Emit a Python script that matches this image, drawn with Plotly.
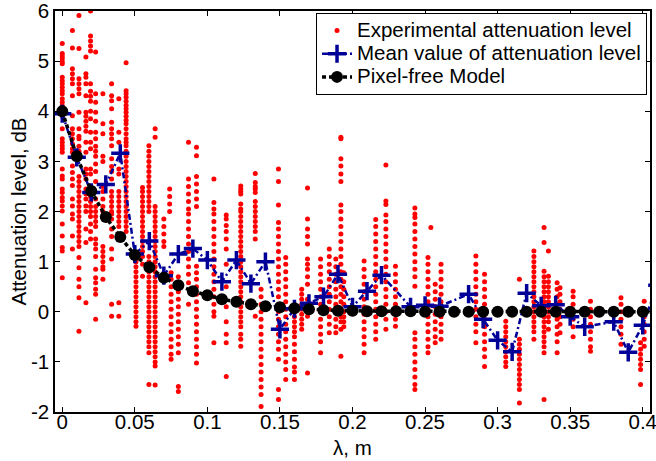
import plotly.graph_objects as go

# ---------------- data ----------------
# Experimental attenuation level: columns of red dots (x position, y values)
dot_col_x = [0.0, 0.007, 0.0115, 0.0163, 0.0195, 0.023, 0.028, 0.034, 0.039, 0.044,
             0.0508, 0.0553, 0.0597, 0.064, 0.07, 0.074, 0.075, 0.08, 0.087, 0.0925,
             0.1045, 0.113, 0.123, 0.133, 0.137, 0.149, 0.154, 0.16, 0.165, 0.169,
             0.178, 0.184, 0.1885, 0.192, 0.194, 0.208, 0.216, 0.223, 0.2296, 0.243,
             0.252, 0.254, 0.257, 0.261, 0.285, 0.291, 0.3056, 0.315, 0.325, 0.332,
             0.335, 0.341, 0.343, 0.352, 0.364, 0.385, 0.3985, 0.401]
dot_col_y = [
    [5.35, 5.15, 5.1, 5.05, 4.99, 4.95, 4.68, 4.61, 4.55, 4.48, 4.41, 4.35, 4.25, 4.18, 4.11, 3.91, 3.65, 3.45, 3.38, 3.31, 3.25, 3.18, 2.85, 2.71, 2.65, 2.45, 2.38, 2.28, 2.21, 2.11, 2.01, 1.75, 1.51, 1.28, 1.21, 0.68],
    [5.61, 5.26, 4.85, 4.75, 4.65, 4.55, 4.31, 3.91, 3.65, 3.55, 3.45, 3.35, 3.25, 3.18, 2.91, 2.78, 2.65, 2.52, 2.25, 2.11, 1.95, 1.85, 1.51, 1.25],
    [5.91, 5.25, 4.65, 4.55, 4.45, 4.35, 3.98, 3.65, 3.5, 3.45, 3.3, 3.2, 2.7, 2.6, 2.5, 2.4, 2.3, 2.2, 2.1, 2.0, 1.9, 1.8, 1.7, 1.6, 1.5, 1.4, 1.3, 1.08, 0.88, 0.65, 0.5, 0.28, -0.39],
    [5.08, 4.75, 4.68, 4.55, 4.31, 3.98, 3.9, 3.8, 3.7, 3.6, 3.38, 3.18, 2.85, 2.75, 2.65, 2.45, 2.35, 2.25, 2.11, 2.0, 1.65, 1.38, 0.18],
    [6.0, 5.5, 5.4, 5.3, 5.2, 4.55, 4.4, 4.3, 4.2, 4.0, 3.85, 3.58, 3.38, 3.25, 2.85, 2.75, 2.4, 2.3, 2.2, 2.1, 2.0, 1.9, 1.75, 1.6, 1.45],
    [5.18, 4.35, 4.18, 3.98, 3.8, 3.58, 3.45, 3.3, 3.2, 3.1, 2.95, 2.8, 2.6, 2.25, 2.1, 2.0, 1.9, 1.8, 1.7, 1.45, 1.35, 1.25, 1.1, 0.85, 0.68, 0.58, 0.45, 0.35, -0.15],
    [4.35, 3.75, 3.55, 3.1, 3.0, 2.5, 2.4, 2.25, 2.1, 2.0, 1.3, 1.2, 1.1, 1.0, 0.9, 0.85, 0.65],
    [4.55, 4.31, 4.21, 4.05, 3.78, 3.65, 3.55, 3.45, 3.31, 3.05, 2.9, 2.8, 2.65, 2.4, 2.3, 2.2, 2.1, 2.0, 1.95, 1.85, 1.65, 1.5, 1.25, 1.05, 0.15, -0.09],
    [4.25, 3.58, 3.38, 2.85, 2.75, 2.4, 2.3, 2.2, 2.1, 2.0, 1.9, 1.8, 1.7, 0.18, -0.09],
    [4.97, 4.41, 4.35, 4.28, 4.2, 4.12, 4.05, 3.98, 3.9, 3.82, 3.75, 3.65, 3.55, 3.45, 3.38, 3.31, 3.2, 3.1, 3.0, 2.9, 2.8, 2.7, 2.6, 2.5, 2.4, 2.3, 2.2, 2.1, 2.0, 1.9, 1.8, 1.7, 1.6],
    [1.11, 1.0, 0.9, 0.8, 0.7, 0.6, 0.5, 0.4, 0.3, 0.2, 0.1, 0.0, -0.1, -0.2, -0.29],
    [2.48, 2.4, 2.3, 2.2, 2.1, 2.0, 1.9, 1.8, 1.7, 1.6, 1.5, 1.4, 1.3, 1.2, 1.1, 0.95, 0.71],
    [3.31, 3.2, 3.1, 3.0, 2.9, 2.8, 2.7, 2.6, 2.5, 2.4, 2.3, 2.2, 2.1, 2.0, 1.1, 1.0, 0.9, 0.8, 0.7, 0.6, 0.5, 0.4, 0.3, 0.2, 0.1, 0.0, -0.1, -0.2, -0.3, -0.4, -0.5, -0.6, -0.7, -0.82, -1.45],
    [3.65, 3.48, 2.1, 2.0, 1.9, 1.8, 1.7, 1.6, 1.5, 1.4, 1.3, 1.2, 1.1, 1.0, 0.9, 0.8, 0.7, 0.6, 0.5, 0.4, 0.3, 0.2, 0.1, 0.0, -0.1, -0.2, -0.3, -0.4, -0.5, -0.6, -0.7, -0.8, -0.9, -1.0, -1.08, -1.46],
    [1.85, 1.7, 1.55, 1.4, 1.3],
    [2.45, 2.3, 2.15, 2.0],
    [0.78, 0.65, 0.5, 0.35, 0.2, 0.05, -0.1, -0.25, -0.4, -0.55, -0.7, -0.85, -0.95],
    [0.7, 0.55, 0.4, 0.25, 0.1, -0.05, -0.2, -0.35, -0.5, -0.65, -0.82, -1.49, -1.59],
    [3.38, 2.65, 2.5, 2.35, 2.2, 2.05, 1.95, 1.8, 1.65, 1.5, 1.35, 1.2, 1.05, 0.9, 0.75, 0.58, 0.15],
    [3.28, 3.11, 2.7, 2.55, 2.4, 2.25, 2.1, 0.91, 0.78, 0.65, 0.5, 0.35, 0.2, 0.05, -0.1, -0.25, -0.4, -0.55, -0.7, -0.85, -1.02],
    [2.65, 2.18, 2.05, 1.95, 1.8, 1.65, 1.5, 1.35, 1.2, 1.05, 0.9, 0.75, 0.6, 0.45, 0.3, 0.15, 0.0, -0.09, -0.62],
    [1.93, 1.85, 1.72, 1.6, 1.45, 1.25, 0.95, 0.5, 0.1, -0.2, -0.45, -0.62, -1.29],
    [2.51, 2.45, 2.4, 2.35, 2.15, 2.05, 2.0, 1.9, 1.8, 1.7, 1.6, 1.5, 1.4, 1.3, 1.2, 1.1, 1.0, 0.9, 0.8, 0.7, 0.6, 0.5, 0.4, 0.3, 0.2, 0.1, 0.0, -0.1, -0.2, -0.3, -0.45, -0.55, -0.69],
    [2.76, 2.58, 2.5, 2.45, 2.38, 2.2, 2.1, 2.0, 1.9, 1.8, 1.7, 1.6, 1.45, -0.09],
    [0.45, 0.3, 0.15, 0.0, -0.15, -0.3, -0.45, -0.6, -0.75, -0.9, -1.05, -1.2, -1.35, -1.5, -1.65, -1.89],
    [2.85, 2.6, 2.13, 1.78, 1.65, 1.5, 1.35, 1.2, 1.05, 0.9, 0.75, 0.6, 0.45, 0.3, 0.15, 0.0, -0.15, -0.3, -0.45, -0.6, -0.75, -0.95, -1.55, -1.75],
    [1.08, 0.95, 0.8, 0.65, 0.5, 0.35, 0.2, 0.05, -0.1, -0.25, -0.4, -0.55, -0.7, -0.85, -1.0, -1.15, -1.35],
    [0.11, 0.0, -0.1, -0.2, -0.3, -0.4, -0.5, -0.65, -0.8, -0.95, -1.1, -1.2, -1.35],
    [0.45, 0.35, 0.25, 0.15, 0.05, -0.05, -0.15, -0.25, -0.35],
    [2.47, 1.85, 1.65, 1.5, 1.35, 1.05, 0.95, 0.85, 0.7, 0.55, 0.25, 0.15, 0.0, -0.09, -1.22],
    [1.05, 0.9, 0.75, 0.6, 0.45, 0.3, 0.15, 0.0, -0.15, -0.3, -0.45, -0.6, -0.82],
    [1.25, 1.1, 0.95, 0.8, 0.65, 0.5, 0.35, 0.2, 0.05, -0.1, -0.25, -0.42],
    [1.05, 0.9, 0.75, 0.6, 0.45, 0.3, 0.15, 0.0, -0.15, -0.3, -0.42],
    [3.48, 3.45, 3.05, 2.91, 2.75, 2.6, 2.13, 2.0, 1.85, 1.7, 1.55, 1.4, 1.25, 1.1, 0.95, 0.8, 0.65, 0.5, 0.35, 0.2, 0.05, -0.1, -0.2, -0.35, -0.89],
    [0.78, 0.6, 0.45, 0.3, 0.15, 0.0, -0.1, -0.2, -0.3],
    [1.01, 0.85, 0.7, 0.55, 0.4, 0.25, 0.1, -0.05, -0.2, -0.35, -0.5, -0.65, -0.82],
    [1.84, 1.7, 1.55, 1.4, 1.25, 1.1, 0.95, 0.8, 0.65, 0.5, 0.35, 0.2, 0.05, -0.1, -0.25, -0.4, -0.55],
    [2.93, 2.21, 2.14, 1.93, 1.8, 1.65, 1.5, 1.35, 1.2, 1.05, 0.9, 0.75, 0.6, 0.45, 0.3, 0.15, 0.0, -0.15, -0.35],
    [0.91, 0.75, 0.6, 0.45, 0.3, 0.15, 0.0, -0.15, -0.29],
    [2.07, 1.95, 1.88, 1.75, 1.6, 1.45, 1.3, 1.15, 1.0, 0.85, 0.7, 0.51, -0.42, -0.55, -0.7, -0.85, -1.0, -1.15, -1.3, -1.45, -1.55],
    [1.08, 0.95, 0.8, 0.65, 0.5, 0.35, 0.2, 0.05, -0.1, -0.25, -0.4, -0.55, -0.7, -0.82],
    [1.68],
    [0.55, 0.4, 0.25, 0.1, -0.05, -0.2, -0.35, -0.5, -0.62],
    [0.95, 0.8, 0.65, 0.5, 0.35, 0.2, 0.05, -0.1, -0.25, -0.4, -0.55],
    [1.11, 0.95, 0.8, 0.65, 0.5, 0.35, 0.2, 0.05, -0.1, -0.25, -0.4, -0.62],
    [0.75, 0.6, 0.45, 0.3, 0.15, 0.0, -0.15, -0.3, -0.45, -0.6, -0.75, -0.9, -1.09],
    [-0.19, -0.3, -0.4, -0.5, -0.6, -0.7, -0.8, -0.9, -1.0, -1.09],
    [0.65, -0.55, -0.65, -0.75, -0.85, -0.95, -1.05, -1.15, -1.25, -1.35, -1.45, -1.55, -1.82],
    [1.21, 1.1, 1.0, 0.9, 0.8, 0.7, 0.6, 0.5, 0.4, 0.3, 0.2, 0.1, 0.0, -0.1, -0.2, -0.3, -0.4, -0.55],
    [1.68, 1.38, 0.81, 0.7, 0.6, 0.5, 0.4, 0.3, 0.2, 0.1, 0.0, -0.1, -0.2, -0.3, -0.4, -0.5, -0.6, -0.7, -0.82, -1.75],
    [1.21, 0.71, 0.6, 0.5, 0.4, 0.3, 0.2, 0.1, 0.0, -0.1, -0.2, -0.35],
    [0.58, 0.45, 0.3, 0.15, 0.0, -0.15, -0.3, -0.45, -0.6, -0.82],
    [0.48, 0.35, 0.2, 0.05, -0.1, -0.25, -0.42],
    [0.41, 0.3, 0.15, 0.0, -0.15, -0.3, -0.5],
    [0.21, 0.05, -0.1, -0.25, -0.4, -0.55, -0.7, -0.79],
    [0.28, 0.15, 0.0, -0.15, -0.3, -0.45, -0.65],
    [-0.62, -0.75, -0.85, -0.95, -1.05, -1.15, -1.45],
    [0.21, 0.05, -0.1, -0.25, -0.4, -0.55, -0.69],
]

# Mean value of attenuation level
mean_x = [0.0, 0.01, 0.02, 0.03, 0.04, 0.05, 0.06, 0.07, 0.08, 0.09, 0.10, 0.11, 0.12,
          0.13, 0.14, 0.15, 0.16, 0.17, 0.18, 0.19, 0.20, 0.21, 0.22, 0.24, 0.25, 0.26,
          0.28, 0.29, 0.30, 0.31, 0.32, 0.33, 0.34, 0.35, 0.36, 0.38, 0.39, 0.40, 0.41]
mean_y = [3.95, 3.08, 2.38, 2.54, 3.16, 1.15, 1.41, 0.72, 1.15, 1.26, 1.03, 0.60, 1.03,
          0.56, 1.00, -0.35, 0.06, 0.17, 0.30, 0.75, 0.10, 0.41, 0.73, 0.10, 0.13, 0.11,
          0.35, -0.15, -0.57, -0.80, 0.37, 0.12, 0.14, -0.10, -0.30, -0.20, -0.81, -0.27, 0.53]

# Pixel-free model
model_x = [0.0, 0.01, 0.02, 0.03, 0.04, 0.05, 0.06, 0.07, 0.08, 0.09, 0.10, 0.11, 0.12, 0.13,
           0.14, 0.15, 0.16, 0.17, 0.18, 0.19, 0.20, 0.21, 0.22, 0.23, 0.24, 0.25, 0.26, 0.27,
           0.28, 0.29, 0.30, 0.31, 0.32, 0.33, 0.34, 0.35, 0.36, 0.37, 0.38, 0.39, 0.40, 0.41]
model_y = [4.00, 3.10, 2.41, 1.89, 1.49, 1.13, 0.89, 0.68, 0.53, 0.41, 0.33, 0.25, 0.20, 0.15,
           0.11, 0.09, 0.07, 0.05, 0.03, 0.02, 0.02, 0.01, 0.01, 0.01, 0.01, 0.0, 0.0, 0.0,
           0.0, 0.0, 0.0, 0.0, 0.0, 0.0, 0.0, 0.0, 0.0, 0.0, 0.0, 0.0, 0.0, 0.0]

series_names = ["Experimental attenuation level", "Mean value of attenuation level", "Pixel-free Model"]

x_tick_vals = [0, 0.05, 0.1, 0.15, 0.2, 0.25, 0.3, 0.35, 0.4]
x_tick_text = ["0", "0.05", "0.1", "0.15", "0.2", "0.25", "0.3", "0.35", "0.4"]
y_tick_vals = [-2, -1, 0, 1, 2, 3, 4, 5, 6]
y_tick_text = ["-2", "-1", "0", "1", "2", "3", "4", "5", "6"]

# ---------------- figure ----------------
dots_x, dots_y = [], []
for cx, ys in zip(dot_col_x, dot_col_y):
    for v in ys:
        dots_x.append(cx)
        dots_y.append(v)

FONT = "Arial, 'Liberation Sans', Helvetica, sans-serif"
FS = 20.5


def legend_label(s):
    # legend row height follows legend font size; text itself drawn at FS
    return '<span style="font-size:%.1fpx">%s</span>' % (FS, s)


fig = go.Figure()
fig.add_trace(go.Scatter(
    x=dots_x, y=dots_y, mode="markers", name=legend_label(series_names[0]),
    marker=dict(color="#FF0000", size=5, line=dict(width=0)),
))
fig.add_trace(go.Scatter(
    x=mean_x, y=mean_y, mode="lines+markers", name=legend_label(series_names[1]),
    line=dict(color="#000099", width=2.5, dash="6px,3px,2px,3px"),
    marker=dict(symbol="cross-thin", size=13, color="#000099",
                line=dict(color="#000099", width=3.5)),
))
fig.add_trace(go.Scatter(
    x=model_x, y=model_y, mode="lines+markers", name=legend_label(series_names[2]),
    line=dict(color="#000000", width=3.5, dash="4px,3px"),
    marker=dict(symbol="circle", size=12, color="#000000"),
))

fig.update_layout(
    width=656, height=461,
    margin=dict(l=55, r=6, t=11, b=49, autoexpand=False),
    paper_bgcolor="white", plot_bgcolor="white",
    font=dict(family=FONT, size=FS, color="black"),
    showlegend=True,
    legend=dict(
        x=0.995, y=0.995, xanchor="right", yanchor="top",
        bgcolor="white", bordercolor="black", borderwidth=1,
        font=dict(family=FONT, size=15.5, color="black"),
        tracegroupgap=0, itemwidth=30,
    ),
    annotations=[
        dict(text="λ, m", xref="paper", yref="paper", x=0.5, y=0,
             xanchor="center", yanchor="top", yshift=-22, showarrow=False,
             font=dict(family=FONT, size=FS, color="black")),
        dict(text="Attenuation level, dB", xref="paper", yref="paper", x=0, y=0.5,
             xanchor="center", yanchor="middle", xshift=-37, textangle=-90,
             showarrow=False, font=dict(family=FONT, size=FS, color="black")),
    ],
)
fig.update_xaxes(
    range=[-0.005, 0.405], tickvals=x_tick_vals, ticktext=x_tick_text,
    showline=True, linecolor="black", linewidth=1.5, mirror="ticks",
    ticks="inside", ticklen=5, tickwidth=1, tickcolor="black",
    showgrid=False, zeroline=False, automargin=False,
    ticklabeloverflow="allow", ticklabelstandoff=-9,
    tickfont=dict(family=FONT, size=FS, color="black"),
)
fig.update_yaxes(
    range=[-2, 6], tickvals=y_tick_vals, ticktext=y_tick_text,
    showline=True, linecolor="black", linewidth=1.5, mirror="ticks",
    ticks="inside", ticklen=5, tickwidth=1, tickcolor="black",
    showgrid=False, zeroline=False, automargin=False,
    ticklabeloverflow="allow",
    tickfont=dict(family=FONT, size=FS, color="black"),
)

fig.write_html("out.html", config={"displayModeBar": False},
               post_script="document.body.style.margin='0';")
